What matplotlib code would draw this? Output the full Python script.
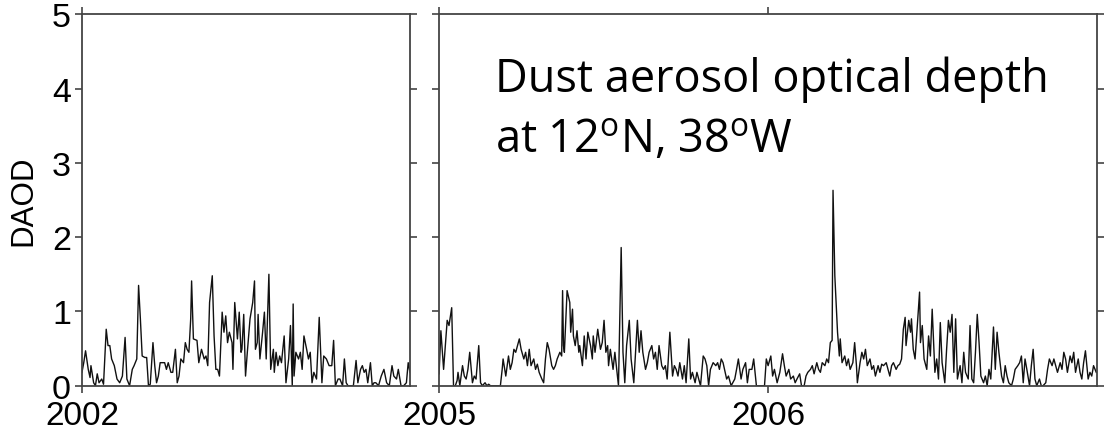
import matplotlib
matplotlib.use('Agg')
import matplotlib.pyplot as plt
import numpy as np

plt.rcParams['font.family'] = ['Liberation Sans', 'DejaVu Sans']
plt.rcParams['mathtext.fontset'] = 'custom'
plt.rcParams['mathtext.rm'] = 'Open Sans'

# 2002: day of year and dust aerosol optical depth
dias_2002 = [0, 2, 4, 7, 9, 10, 13, 15, 17, 19, 22, 24, 27, 29, 31, 33, 36, 39, 42, 45,
             48, 50, 53, 56, 58, 61, 63, 65, 67, 70, 72, 74, 76, 79, 81, 83, 85, 87, 90, 92,
             94, 96, 99, 101, 104, 106, 108, 110, 113, 115, 117, 119, 121, 122, 124, 128, 130, 133, 136, 138,
             140, 142, 145, 147, 149, 151, 153, 156, 158, 160, 162, 164, 167, 168, 170, 173, 175, 177, 178, 180,
             182, 184, 187, 190, 192, 193, 195, 196, 198, 201, 203, 205, 208, 210, 213, 214, 216, 218, 220, 222,
             225, 227, 230, 232, 234, 235, 236, 238, 241, 243, 245, 247, 250, 252, 254, 256, 258, 261, 264, 267,
             269, 272, 275, 278, 280, 282, 285, 287, 290, 292, 294, 296, 299, 302, 305, 307, 310, 312, 314, 316,
             318, 321, 323, 325, 327, 330, 333, 336, 339, 342, 345, 347, 350, 352, 355, 358, 361, 363, 365]
daod_2002 = [0.18, 0.31, 0.47, 0.22, 0.11, 0.27, 0.04, 0.00, 0.16, 0.04, 0.09, 0.02, 0.76, 0.54, 0.54, 0.36, 0.27, 0.09, 0.04, 0.13,
             0.65, 0.09, 0.00, 0.22, 0.27, 0.36, 1.35, 0.90, 0.40, 0.38, 0.38, 0.00, 0.02, 0.58, 0.27, 0.04, 0.13, 0.31, 0.31, 0.31,
             0.22, 0.31, 0.18, 0.18, 0.49, 0.04, 0.13, 0.36, 0.31, 0.58, 0.49, 0.45, 0.90, 1.41, 0.63, 0.61, 0.31, 0.49, 0.36, 0.40,
             0.27, 1.12, 1.48, 0.67, 0.22, 0.22, 0.13, 0.99, 0.72, 0.94, 0.58, 0.72, 0.58, 0.22, 1.12, 0.63, 0.99, 0.45, 0.49, 0.96,
             0.13, 0.45, 0.90, 1.12, 1.41, 0.49, 0.58, 0.96, 0.36, 0.72, 0.99, 0.36, 1.50, 0.22, 0.49, 0.18, 0.45, 0.27, 0.40, 0.31,
             0.67, 0.04, 0.36, 0.81, 0.00, 1.10, 0.13, 0.45, 0.36, 0.45, 0.22, 0.67, 0.49, 0.36, 0.45, 0.04, 0.18, 0.09, 0.92, 0.04,
             0.40, 0.36, 0.27, 0.27, 0.61, 0.00, 0.09, 0.09, 0.00, 0.36, 0.04, 0.00, 0.00, 0.00, 0.34, 0.04, 0.22, 0.27, 0.18, 0.22,
             0.04, 0.31, 0.00, 0.04, 0.04, 0.00, 0.13, 0.22, 0.04, 0.00, 0.27, 0.13, 0.09, 0.22, 0.00, 0.00, 0.04, 0.31, 0.18]

# 2005-2006: days since 1 Jan 2005
dias_0506 = [0, 2, 5, 9, 11, 14, 16, 18, 20, 21, 23, 26, 28, 30, 32, 34, 37, 39, 41, 44,
             46, 48, 51, 53, 55, 57, 68, 70, 71, 74, 77, 79, 81, 83, 85, 89, 91, 94, 96, 98,
             100, 102, 105, 107, 109, 111, 114, 116, 118, 120, 122, 125, 127, 129, 131, 134, 136, 137, 138, 139,
             142, 145, 146, 148, 149, 151, 153, 155, 156, 159, 161, 163, 165, 168, 170, 171, 173, 176, 179, 181,
             183, 185, 187, 188, 190, 193, 195, 199, 202, 204, 206, 208, 211, 213, 216, 218, 220, 222, 224, 226,
             229, 231, 233, 236, 238, 240, 242, 244, 247, 249, 251, 253, 256, 259, 261, 263, 265, 267, 270, 272,
             274, 277, 279, 281, 284, 286, 288, 290, 293, 295, 297, 299, 301, 304, 307, 309, 311, 313, 315, 319,
             321, 324, 328, 330, 332, 335, 337, 340, 342, 344, 347, 349, 352, 355, 361, 363, 365,
             368, 370, 372, 375, 378, 381, 383, 385, 388, 390, 393, 395, 397, 400, 402, 405, 407, 409, 412, 414,
             416, 419, 421, 423, 425, 428, 430, 432, 434, 436, 437, 439, 442, 444, 445, 447, 450, 452, 454, 456,
             459, 461, 463, 464, 467, 469, 471, 473, 475, 478, 480, 482, 484, 487, 489, 491, 493, 496, 498, 500,
             502, 504, 507, 509, 511, 513, 515, 517, 518, 521, 523, 524, 526, 528, 530, 533, 534, 536, 538, 541,
             543, 545, 547, 550, 552, 554, 556, 558, 561, 563, 565, 567, 569, 571, 573, 575, 578, 580, 582, 584,
             587, 589, 591, 593, 595, 597, 599, 601, 604, 606, 608, 610, 612, 615, 617, 619, 621, 624, 626, 628,
             630, 632, 635, 637, 639, 642, 644, 646, 648, 650, 652, 655, 657, 659, 661, 663, 666, 668, 670, 673,
             675, 677, 680, 682, 684, 686, 689, 691, 693, 695, 697, 700, 702, 704, 706, 709, 711, 713, 715, 717,
             720, 722, 724, 726, 729]
daod_0506 = [0.16, 0.74, 0.22, 0.88, 0.81, 1.05, 0.00, 0.00, 0.07, 0.18, 0.00, 0.27, 0.13, 0.09, 0.22, 0.45, 0.04, 0.13, 0.09, 0.54,
             0.04, 0.00, 0.04, 0.00, 0.02, 0.00, 0.00, 0.22, 0.36, 0.13, 0.40, 0.22, 0.31, 0.49, 0.45, 0.63, 0.49, 0.36, 0.45, 0.27,
             0.49, 0.27, 0.36, 0.22, 0.29, 0.18, 0.09, 0.04, 0.36, 0.58, 0.49, 0.27, 0.22, 0.27, 0.36, 0.45, 0.40, 1.28, 0.54, 0.45,
             1.28, 1.12, 0.72, 1.03, 0.67, 0.54, 0.74, 0.45, 0.54, 0.27, 0.67, 0.36, 0.72, 0.54, 0.36, 0.67, 0.45, 0.76, 0.49, 0.58,
             0.88, 0.45, 0.54, 0.27, 0.49, 0.22, 0.45, 0.00, 1.86, 0.45, 0.04, 0.54, 0.88, 0.36, 0.04, 0.45, 0.88, 0.45, 0.74, 0.45,
             0.22, 0.31, 0.45, 0.54, 0.36, 0.45, 0.22, 0.54, 0.27, 0.22, 0.27, 0.09, 0.72, 0.13, 0.27, 0.22, 0.13, 0.31, 0.09, 0.27,
             0.04, 0.63, 0.09, 0.18, 0.04, 0.18, 0.09, 0.00, 0.40, 0.36, 0.27, 0.00, 0.22, 0.31, 0.27, 0.31, 0.22, 0.36, 0.31, 0.09,
             0.13, 0.00, 0.09, 0.22, 0.36, 0.09, 0.22, 0.31, 0.04, 0.22, 0.22, 0.36, 0.00, 0.00, 0.00, 0.36, 0.27,
             0.40, 0.13, 0.22, 0.04, 0.18, 0.43, 0.27, 0.13, 0.22, 0.09, 0.13, 0.04, 0.09, 0.16, 0.00, 0.00, 0.13, 0.18, 0.22, 0.27,
             0.16, 0.31, 0.22, 0.18, 0.31, 0.27, 0.36, 0.31, 0.58, 0.61, 2.63, 1.48, 0.72, 0.40, 0.63, 0.31, 0.40, 0.27, 0.36, 0.22,
             0.31, 0.58, 0.27, 0.04, 0.31, 0.45, 0.36, 0.49, 0.27, 0.36, 0.22, 0.27, 0.13, 0.27, 0.18, 0.29, 0.27, 0.31, 0.22, 0.13,
             0.27, 0.31, 0.22, 0.27, 0.29, 0.36, 0.76, 0.92, 0.54, 0.88, 0.72, 0.90, 0.49, 0.36, 0.72, 1.26, 0.58, 0.81, 0.36, 0.22,
             0.67, 0.40, 1.03, 0.18, 0.36, 0.09, 0.85, 0.31, 0.04, 0.49, 0.88, 0.72, 0.96, 0.18, 0.90, 0.09, 0.27, 0.04, 0.45, 0.18,
             0.09, 0.81, 0.09, 0.04, 0.45, 0.96, 0.58, 0.13, 0.04, 0.13, 0.00, 0.22, 0.09, 0.79, 0.22, 0.72, 0.45, 0.13, 0.04, 0.27,
             0.13, 0.04, 0.00, 0.09, 0.22, 0.27, 0.31, 0.40, 0.04, 0.36, 0.22, 0.00, 0.27, 0.49, 0.09, 0.00, 0.09, 0.00, 0.00, 0.04,
             0.22, 0.36, 0.27, 0.36, 0.27, 0.18, 0.31, 0.22, 0.45, 0.36, 0.18, 0.40, 0.31, 0.45, 0.18, 0.36, 0.18, 0.09, 0.31, 0.47,
             0.09, 0.18, 0.13, 0.27, 0.18]

x_2002 = 2002 + np.array(dias_2002) / 365.0
x_0506 = 2005 + np.array(dias_0506) / 365.0

fig = plt.figure(figsize=(11.06, 4.35), dpi=100)
ax1 = fig.add_axes([0.0741, 0.111, 0.2966, 0.854])
ax2 = fig.add_axes([0.397, 0.111, 0.595, 0.854])

color_eje = '#444444'
for ax in (ax1, ax2):
    for s in ax.spines.values():
        s.set_color(color_eje)
        s.set_linewidth(1.3)
    ax.set_ylim(0, 5)
    ax.set_yticks([0, 1, 2, 3, 4, 5])
    ax.tick_params(direction='out', length=5, width=1.2, color=color_eje,
                   top=True, right=True, labelsize=24.5)
    ax.tick_params(axis='y', pad=3)
    ax.tick_params(axis='x', pad=5, labelsize=24)

ax1.plot(x_2002, daod_2002, color='#111111', lw=1.0)
ax1.set_xlim(2002, 2003)
ax1.set_xticks([2002])
ax1.set_xticklabels(['2002'])
ax1.set_ylabel('DAOD', fontsize=22.5, labelpad=10)

ax2.plot(x_0506, daod_0506, color='#111111', lw=1.0)
ax2.set_xlim(2005, 2007)
ax2.set_xticks([2005, 2006])
ax2.set_xticklabels(['2005', '2006'])
ax2.tick_params(labelleft=False)

ax2.text(0.085, 3.97, 'Dust aerosol optical depth', transform=ax2.get_yaxis_transform(),
         fontsize=32.5, family='Open Sans', va='baseline')
ax2.text(0.085, 3.14, r'at 12$^{\rm o}$N, 38$^{\rm o}$W', transform=ax2.get_yaxis_transform(),
         fontsize=32.5, family='Open Sans', va='baseline')

fig.savefig('out.png', dpi=100)
